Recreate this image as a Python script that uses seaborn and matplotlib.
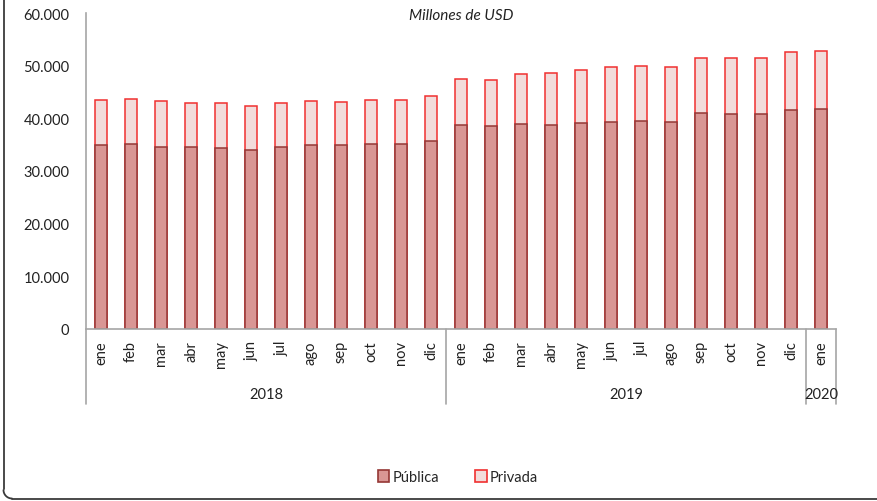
import matplotlib
matplotlib.use("Agg")
import matplotlib.pyplot as plt
import seaborn as sns
import pandas as pd
import numpy as np
from matplotlib.patches import Patch
from matplotlib.lines import Line2D
from matplotlib.transforms import blended_transform_factory
from matplotlib.ticker import FuncFormatter

# ---- data (millones de USD) ----
months = ["ene", "feb", "mar", "abr", "may", "jun", "jul", "ago", "sep", "oct", "nov", "dic",
          "ene", "feb", "mar", "abr", "may", "jun", "jul", "ago", "sep", "oct", "nov", "dic",
          "ene"]
years = ["2018"] * 12 + ["2019"] * 12 + ["2020"]
publica = [35000, 35060, 34550, 34500, 34430, 33990, 34500, 34930, 34870, 35190, 35060, 35760,
           38730, 38600, 38980, 38670, 39110, 39360, 39550, 39240, 40950, 40820, 40760, 41520,
           41770]
privada = [8500, 8540, 8650, 8500, 8420, 8410, 8350, 8370, 8230, 8310, 8440, 8440,
           8800, 8740, 9370, 9870, 10060, 10320, 10320, 10440, 10500, 10570, 10630, 11070,
           10950]
year_labels = ["2018", "2019", "2020"]
y_ticks = [0, 10000, 20000, 30000, 40000, 50000, 60000]

sns.set_theme(style="white")
plt.rcParams["font.family"] = ["Lato", "DejaVu Sans"]

df = pd.DataFrame({
    "key": [f"{y}-{i}" for i, y in enumerate(years)],
    "mes": months,
    "anio": years,
    "Pública": publica,
    "Privada": privada,
})
df["total"] = df["Pública"] + df["Privada"]

fig = plt.figure(figsize=(8.77, 5.02), dpi=100, facecolor="white")
W, H = 877, 502
ax = fig.add_axes([86 / W, 1 - 330 / H, (836 - 86) / W, (330 - 14) / H])

pub_face, pub_edge = "#D99694", "#953735"
pri_face, pri_edge = "#F2DCDB", "#F03030"

sns.barplot(data=df, x="key", y="total", order=df["key"], color=pri_face, saturation=1,
            width=0.43, edgecolor=pri_edge, linewidth=1.1, ax=ax)
sns.barplot(data=df, x="key", y="Pública", order=df["key"], color=pub_face, saturation=1,
            width=0.43, edgecolor=pub_edge, linewidth=1.1, ax=ax)

ax.set_xlim(-0.5, len(df) - 0.5)
ax.set_ylim(0, 60000)
ax.set_yticks(y_ticks)
ax.yaxis.set_major_formatter(FuncFormatter(lambda v, p: f"{int(v):,}".replace(",", ".")))
ax.tick_params(axis="y", length=0, pad=12, labelsize=10.5, colors="#222222")
ax.set_xticks(range(len(df)))
ax.set_xticklabels(df["mes"], rotation=90, fontsize=10.5, color="#222222")
ax.tick_params(axis="x", length=0, pad=8)
ax.set_xlabel("")
ax.set_ylabel("")
for s in ["top", "right"]:
    ax.spines[s].set_visible(False)
for s in ["left", "bottom"]:
    ax.spines[s].set_color("#A6A6A6")
    ax.spines[s].set_linewidth(1.2)

# group separators and year labels
trans = blended_transform_factory(ax.transData, ax.transAxes)
ybot = -(405 - 330) / (330 - 14)
bounds = [-0.5]
for i in range(1, len(years)):
    if years[i] != years[i - 1]:
        bounds.append(i - 0.5)
bounds.append(len(years) - 0.5)
for b in bounds:
    ax.plot([b, b], [0, ybot], transform=trans, color="#A6A6A6", lw=1.2, clip_on=False)
for j, yl in enumerate(year_labels):
    xc = (bounds[j] + bounds[j + 1]) / 2
    ax.text(xc, -(395 - 330) / (330 - 14), yl, transform=trans, ha="center", va="center",
            fontsize=10.5, color="#222222")

fig.text(461 / W, 1 - 16 / H, "Millones de USD", ha="center", va="center",
         fontsize=11, style="italic", color="#222222")

handles = [Patch(facecolor=pub_face, edgecolor=pub_edge, linewidth=1.2, label="Pública"),
           Patch(facecolor=pri_face, edgecolor=pri_edge, linewidth=1.2, label="Privada")]
fig.legend(handles=handles, loc="center", bbox_to_anchor=(458 / W, 1 - 478 / H), ncol=2,
           frameon=False, fontsize=10.5, handlelength=0.8, handleheight=0.8,
           handletextpad=0.2, columnspacing=2.5)

# border: only left and bottom edges, simple lines in figure fraction
fig.add_artist(Line2D([3.5 / W, 3.5 / W], [1.0, 12 / H], color="#3A3A3A", lw=1.3))
fig.add_artist(Line2D([12 / W, 1.0], [2.5 / H, 2.5 / H], color="#3A3A3A", lw=1.3))
ang = np.linspace(np.pi, 1.5 * np.pi, 12)
fig.add_artist(Line2D((12 + 8.5 * np.cos(ang)) / W, (11 + 8.5 * np.sin(ang)) / H,
                      color="#3A3A3A", lw=1.3))

fig.savefig("out.png", dpi=100, facecolor="white")
